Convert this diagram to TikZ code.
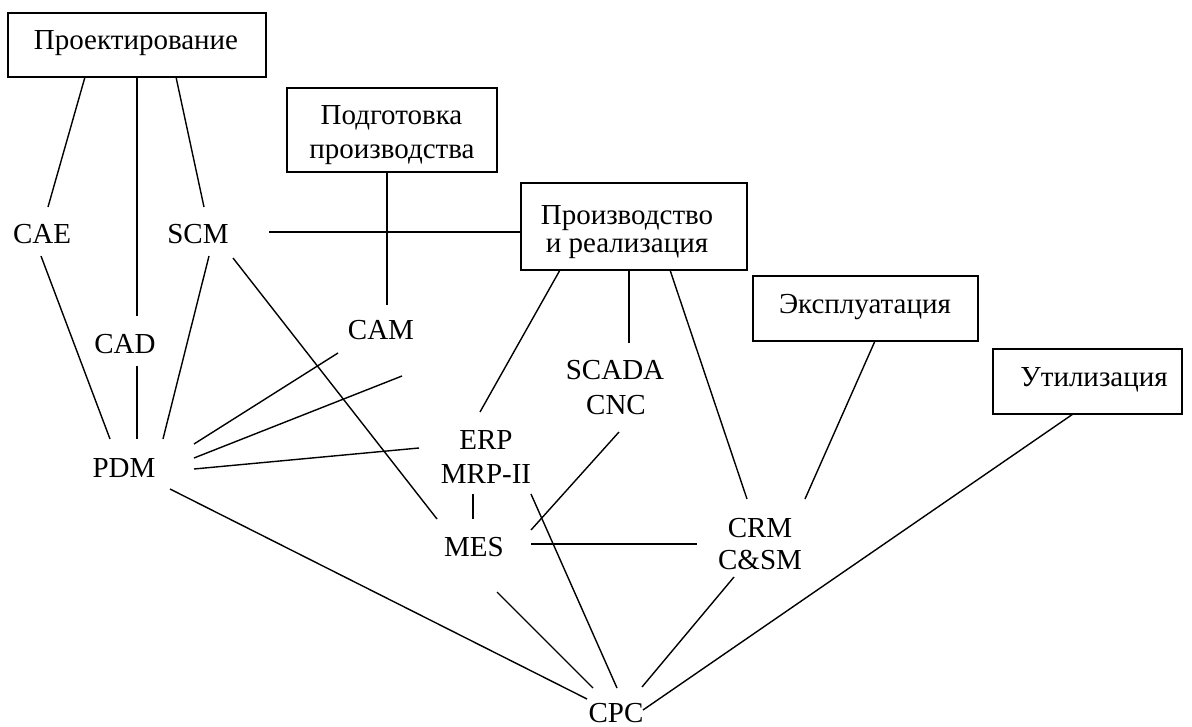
\documentclass[tikz,border=0pt]{standalone}
\usepackage{fontspec}
\setmainfont{Liberation Serif}
\begin{document}
\begin{tikzpicture}[x=1pt,y=-1pt,
  every node/.style={inner sep=0pt, outer sep=0pt},
  lbl/.style={font=\fontsize{29}{34}\selectfont, anchor=base},
  stage/.style={draw, line width=1.8pt},
  link/.style={line width=1.4pt},
]
\useasboundingbox (0,0) rectangle (1192,727);

% life-cycle stages (frames)
\node[stage, minimum width=258pt, minimum height=64pt] (proj)  at (137,45)     {};
\node[stage, minimum width=210pt, minimum height=84pt] (podg)  at (392,130)    {};
\node[stage, minimum width=226pt, minimum height=87pt] (proiz) at (634,226.5)  {};
\node[stage, minimum width=225pt, minimum height=65pt] (expl)  at (865.5,308.5){};
\node[stage, minimum width=189pt, minimum height=65pt] (util)  at (1087.5,381.5){};

% stage captions
\node[lbl] (proj-t)   at (136,50)   {Проектирование};
\node[lbl] (podg-t1)  at (391.5,125){Подготовка};
\node[lbl] (podg-t2)  at (392,159)  {производства};
\node[lbl] (proiz-t1) at (627,225)  {Производство};
\node[lbl] (proiz-t2) at (627,253)  {и реализация};
\node[lbl] (expl-t)   at (865,314)  {Эксплуатация};
\node[lbl] (util-t)   at (1094,387) {Утилизация};

% systems
\node[lbl] (cae)   at (42,244)  {CAE};
\node[lbl] (scm)   at (198,244) {SCM};
\node[lbl] (cad)   at (125,354) {CAD};
\node[lbl] (pdm)   at (124,477) {PDM};
\node[lbl] (cam)   at (381,340) {CAM};
\node[lbl] (erp)   at (486,449) {ERP};
\node[lbl] (mrp)   at (486,483) {MRP-II};
\node[lbl] (mes)   at (474,556) {MES};
\node[lbl] (scada) at (615,380) {SCADA};
\node[lbl] (cnc)   at (616,414) {CNC};
\node[lbl] (crm)   at (760,537) {CRM};
\node[lbl] (csm)   at (760,569) {C\&SM};
\node[lbl] (cpc)   at (616,722) {CPC};

% links
\draw[link] ([shift={(-52,0)}]proj.south) -- ([shift={(6,-37)}]cae.base);
\draw[link] (proj.south) -- ([shift={(12,-38)}]cad.base);
\draw[link] ([shift={(39,0)}]proj.south) -- ([shift={(6,-37)}]scm.base);
\draw[link] ([shift={(-1,12)}]cae.base) -- ([shift={(-14,-38)}]pdm.base);
\draw[link] ([shift={(12,12)}]cad.base) -- ([shift={(13,-38)}]pdm.base);
\draw[link] ([shift={(11,12)}]scm.base) -- ([shift={(39,-38)}]pdm.base);
\draw[link] ([shift={(35,14)}]scm.base) -- ([shift={(-37,-37)}]mes.base);
\coordinate (scm-e) at ([shift={(71,-12)}]scm.base);
\draw[link] (scm-e) -- (scm-e -| proiz.west);
\draw[link] ([shift={(-5,0)}]podg.south) -- ([shift={(6,-35)}]cam.base);
\draw[link] ([shift={(70,-33)}]pdm.base) -- ([shift={(-43,13)}]cam.base);
\draw[link] ([shift={(70,-19)}]pdm.base) -- ([shift={(21,36)}]cam.base);
\draw[link] ([shift={(70,-8)}]pdm.base) -- ([shift={(-67,-1)}]erp.base);
\draw[link] ([shift={(46,12)}]pdm.base) -- ([shift={(-29,-23)}]cpc.base);
\draw[link] ([shift={(-6,-37)}]erp.base) -- ([shift={(-74,0)}]proiz.south);
\draw[link] ([shift={(-13,11)}]mrp.base) -- ([shift={(-1,-37)}]mes.base);
\draw[link] ([shift={(45,11)}]mrp.base) -- ([shift={(1,-34)}]cpc.base);
\draw[link] ([shift={(3,18)}]cnc.base) -- ([shift={(57,-26)}]mes.base);
\draw[link] ([shift={(57,-12)}]mes.base) -- ([shift={(-63,7)}]crm.base);
\draw[link] ([shift={(23,36)}]mes.base) -- ([shift={(-23,-34)}]cpc.base);
\draw[link] ([shift={(-5,0)}]proiz.south) -- ([shift={(14,-37)}]scada.base);
\draw[link] ([shift={(36,0)}]proiz.south) -- ([shift={(-13,-38)}]crm.base);
\draw[link] ([shift={(9.5,0)}]expl.south) -- ([shift={(45,-38)}]crm.base);
\draw[link] ([shift={(-26,8)}]csm.base) -- ([shift={(26,-35)}]cpc.base);
\draw[link] ([shift={(-14.5,0)}]util.south) -- ([shift={(27,-12)}]cpc.base);
\end{tikzpicture}
\end{document}
